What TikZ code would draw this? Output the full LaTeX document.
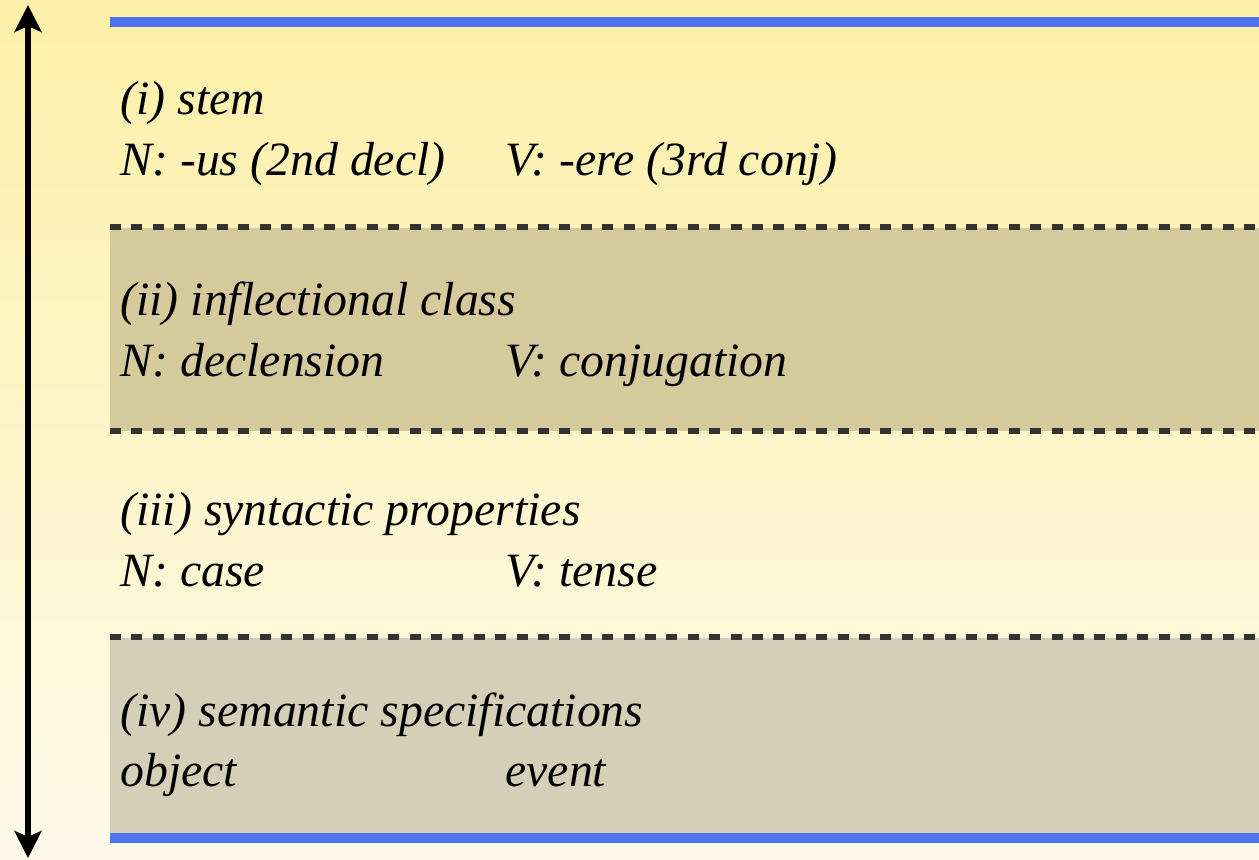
\documentclass[tikz,border=0pt]{standalone}
\usepackage{fontspec}
\setmainfont{Liberation Serif}
\usetikzlibrary{arrows.meta}

\definecolor{bgtop}{RGB}{253,240,168}
\definecolor{bgbot}{RGB}{254,250,234}
\definecolor{bandA}{RGB}{213,202,155}
\definecolor{bandB}{RGB}{214,207,184}
\definecolor{ruleblue}{RGB}{78,115,238}
\definecolor{dashgray}{RGB}{51,51,51}

\begin{document}
\begin{tikzpicture}[x=0.5pt,y=-0.5pt]

% Define styles
\tikzstyle{level}=[font=\fontsize{23.9}{28}\selectfont\itshape, anchor=base west, inner sep=0pt]
\tikzstyle{border}=[line width=5pt, draw=ruleblue]
\tikzstyle{divider}=[line width=2.8pt, draw=dashgray, dash pattern=on 5.5pt off 5.2pt]
\tikzstyle{axis}=[line width=2.6pt, {Stealth[length=13.5pt, width=13.5pt, inset=3pt]}-{Stealth[length=13.5pt, width=13.5pt, inset=3pt]}]

% Parameters
\def\bandl{110}
\def\bandr{1259}
\def\colv{505}

% Background
\shade[top color=bgtop, bottom color=bgbot] (0,0) rectangle (1259,860);
\useasboundingbox (0,0) rectangle (1259,860);

% Shaded bands
\fill[bandA] (\bandl,228) rectangle (\bandr,431);
\fill[bandB] (\bandl,638) rectangle (\bandr,838);

% Rules
\draw[border] (\bandl,22) -- (\bandr,22);
\draw[border] (\bandl,838) -- (\bandr,838);
\foreach \y in {227,431,637} {
  \draw[divider] (\bandl,\y) -- (\bandr,\y);
}

% Levels
% Format: row/baseline/heading/noun/verb
\foreach \r/\y/\head/\noun/\verb in {
  1/115/{(i) stem}/{N: -us (2nd decl)}/{V: -ere (3rd conj)},
  2/316/{(ii) inflectional class}/{N: declension}/{V: conjugation},
  3/526/{(iii) syntactic properties}/{N: case}/{V: tense},
  4/726/{(iv) semantic specifications}/{object}/{event}} {
  \node[level] (head-\r) at (120,\y) {\head};
  \node[level] (noun-\r) at (120,\y+61) {\noun};
  \node[level] (verb-\r) at (\colv,\y+61) {\verb};
}

% Vertical axis
\coordinate (axtop) at (28,5);
\coordinate (axbot) at (28,858);
\draw[axis] (axtop) -- (axbot);

\end{tikzpicture}
\end{document}
